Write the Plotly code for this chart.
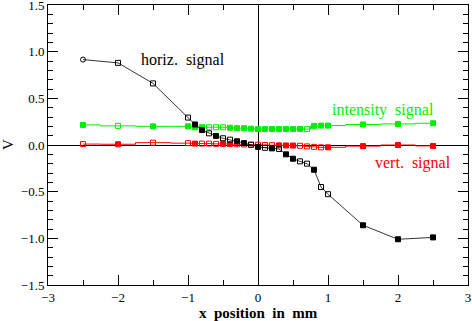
import plotly.graph_objects as go

x_pos = [-2.5, -2.0, -1.5, -1.0, -0.9, -0.8, -0.7, -0.6, -0.5, -0.4, -0.3, -0.2, -0.1, 0.0,
         0.1, 0.2, 0.3, 0.4, 0.5, 0.6, 0.7, 0.8, 0.9, 1.0, 1.5, 2.0, 2.5]
horiz = [0.915, 0.88, 0.66, 0.294, 0.22, 0.16, 0.125, 0.097, 0.072, 0.057, 0.04, 0.02, 0.003, -0.02,
         -0.03, -0.036, -0.043, -0.10, -0.147, -0.175, -0.20, -0.265, -0.45, -0.527, -0.86, -1.01, -0.99]
intensity = [0.215, 0.205, 0.20, 0.20, 0.19, 0.19, 0.19, 0.19, 0.19, 0.185, 0.18, 0.18, 0.175, 0.17,
             0.17, 0.17, 0.17, 0.17, 0.17, 0.172, 0.17, 0.205, 0.208, 0.208, 0.22, 0.226, 0.233]
vert = [0.01, 0.008, 0.025, 0.02, 0.015, 0.015, 0.015, 0.012, 0.012, 0.01, 0.008, 0.006, 0.003, 0.003,
        0.0, -0.002, -0.004, -0.005, -0.006, -0.008, -0.015, -0.02, -0.025, -0.025, -0.012, 0.0, -0.01]
x_ticks = [-3, -2, -1, 0, 1, 2, 3]
y_ticks = [-1.5, -1.0, -0.5, 0.0, 0.5, 1.0, 1.5]

sym_a = ["circle-open", "square-open", "square-open", "square-open", "square", "square", "square-open",
         "square", "square-open", "square-open", "square", "square", "square-open", "square",
         "square-open", "square", "square-open", "square", "square", "square-open", "square-open",
         "square", "square-open", "square-open", "square", "square", "square"]
sym_b = ["square", "square-open", "square", "square", "square", "square", "square-open",
         "square-open", "square-open", "square", "square", "square", "square", "square",
         "square", "square", "square", "square", "square", "square", "square-open",
         "square", "square", "square", "square", "square", "square"]
sym_c = ["square-open", "square", "square-open", "square-open", "square", "square-open", "square-open",
         "square-open", "square", "square", "square-open", "square-open", "square-open", "square-open",
         "square-open", "square-open", "square", "square", "square", "square-open", "square-open",
         "square-open", "square-open", "square", "square", "square", "square"]

fig = go.Figure()
fig.add_trace(go.Scatter(x=x_pos, y=intensity, mode="lines+markers", line=dict(color="#00ee00", width=1, shape="hvh"),
                         marker=dict(symbol=sym_b, size=5, color="#00ee00", line=dict(width=1, color="#00ee00"))))
fig.add_trace(go.Scatter(x=x_pos, y=vert, mode="lines+markers", line=dict(color="#ff0000", width=1, shape="hvh"),
                         marker=dict(symbol=sym_c, size=5, color="#ff0000", line=dict(width=1, color="#ff0000"))))
fig.add_trace(go.Scatter(x=x_pos, y=horiz, mode="lines+markers", line=dict(color="black", width=0.8),
                         marker=dict(symbol=sym_a, size=5, color="black", line=dict(width=1, color="black"))))

font = "Liberation Serif"
fig.add_annotation(x=-1.07, y=0.915, text="horiz.  signal", showarrow=False, font=dict(family=font, size=16, color="black"))
fig.add_annotation(x=1.79, y=0.37, text="intensity  signal", showarrow=False, font=dict(family=font, size=16, color="#00ee00"))
fig.add_annotation(x=2.21, y=-0.19, text="vert.  signal", showarrow=False, font=dict(family=font, size=16, color="#ff0000"))
fig.add_annotation(xref="paper", yref="paper", x=0.5, y=-0.1, xanchor="center", yanchor="middle",
                   text="<b>x  position  in  mm</b>", showarrow=False,
                   font=dict(family=font, size=15, color="black"))
fig.add_annotation(xref="paper", yref="paper", x=-0.095, y=0.5, xanchor="center", yanchor="middle",
                   text="V", textangle=-90, showarrow=False,
                   font=dict(family=font, size=15, color="black"))

axis_common = dict(showgrid=False, showline=True, linecolor="black", linewidth=1, mirror="ticks",
                   ticks="inside", tickcolor="black", ticklen=10, tickwidth=1, automargin=False,
                   ticklabeloverflow="allow",
                   zeroline=True, zerolinecolor="black", zerolinewidth=1,
                   tickfont=dict(family=font, size=13, color="black"))
fig.update_xaxes(range=[-3, 3], tickvals=x_ticks,
                 minor=dict(dtick=0.5, ticklen=5, ticks="inside", tickcolor="black"),
                 **axis_common)
fig.update_yaxes(range=[-1.5, 1.5], tickvals=y_ticks, tickformat=".1f",
                 minor=dict(dtick=0.1, ticklen=5, ticks="inside", tickcolor="black"),
                 **axis_common)
fig.update_layout(width=472, height=321, margin=dict(l=48, r=4, t=5, b=36),
                  paper_bgcolor="white", plot_bgcolor="white", showlegend=False)
fig.write_html("out.html", config={"displayModeBar": False},
               post_script="document.body.style.margin='0px';")
